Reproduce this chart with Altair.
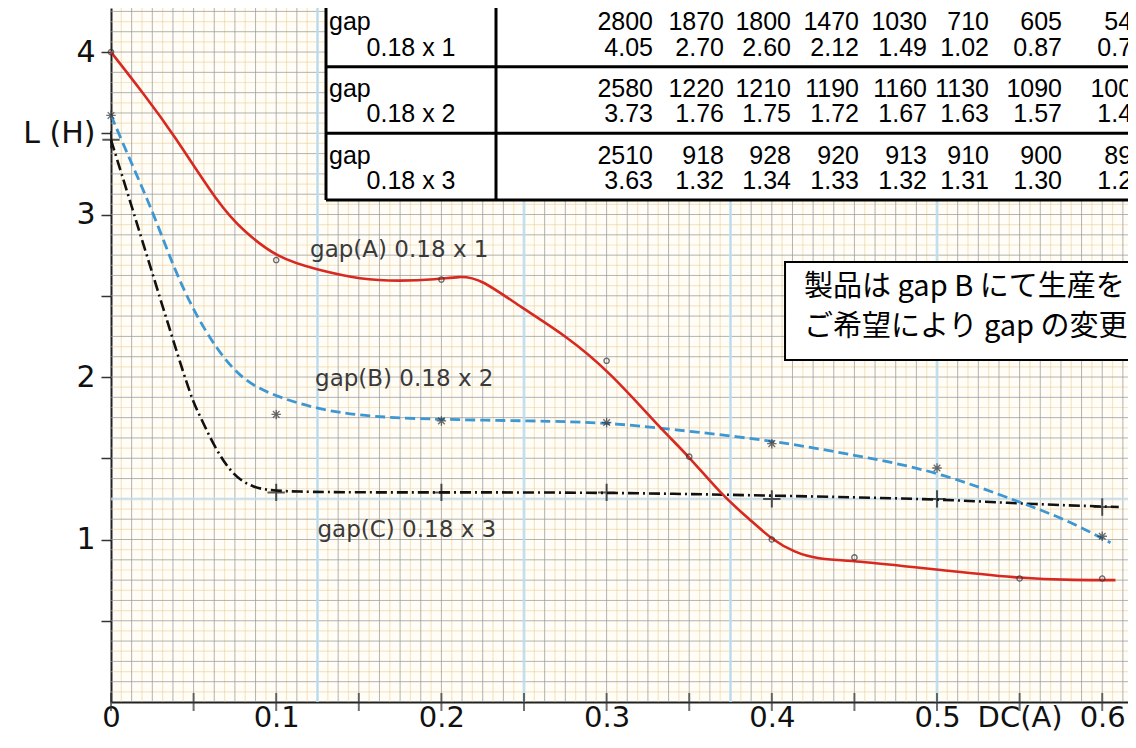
import altair as alt
import pandas as pd

# ---------------- values ----------------
# drawn curves (DC(A) -> L(H))
A_X = [0, 0.02, 0.0375, 0.066, 0.080, 0.101, 0.125, 0.151, 0.175, 0.197, 0.211, 0.223,
       0.248, 0.276, 0.302, 0.332, 0.35, 0.37, 0.387, 0.40, 0.414, 0.427, 0.45, 0.495,
       0.55, 0.584, 0.608]
A_Y = [4.0, 3.74, 3.50, 3.05, 2.90, 2.73, 2.66, 2.60, 2.59, 2.60, 2.62, 2.61,
       2.43, 2.25, 2.03, 1.69, 1.51, 1.27, 1.12, 1.00, 0.92, 0.88, 0.87, 0.82,
       0.76, 0.75, 0.75]

B_X = [0, 0.0135, 0.0256, 0.0377, 0.0498, 0.064, 0.078, 0.094, 0.125, 0.153, 0.188,
       0.257, 0.30, 0.338, 0.40, 0.45, 0.50, 0.55, 0.579, 0.605]
B_Y = [3.61, 3.29, 3.01, 2.68, 2.41, 2.17, 2.00, 1.90, 1.80, 1.76, 1.74,
       1.73, 1.72, 1.68, 1.61, 1.52, 1.42, 1.23, 1.12, 0.98]

C_X = [0, 0.0125, 0.025, 0.0375, 0.049, 0.053, 0.0625, 0.074, 0.086, 0.1, 0.2, 0.3,
       0.4, 0.5, 0.55, 0.61]
C_Y = [3.46, 3.05, 2.64, 2.23, 1.86, 1.78, 1.57, 1.39, 1.32, 1.29, 1.29, 1.29,
       1.27, 1.25, 1.22, 1.20]

# measured points (markers)
A_PX = [0, 0.1, 0.2, 0.3, 0.35, 0.4, 0.45, 0.55, 0.6]
A_PY = [4.0, 2.72, 2.60, 2.10, 1.51, 1.00, 0.89, 0.76, 0.76]
B_PX = [0, 0.1, 0.2, 0.3, 0.4, 0.5, 0.6]
B_PY = [3.61, 1.77, 1.73, 1.72, 1.59, 1.44, 1.02]
C_PX = [0, 0.1, 0.2, 0.3, 0.4, 0.5, 0.6]
C_PY = [3.46, 1.29, 1.29, 1.29, 1.25, 1.25, 1.20]

# curve labels
CURVE_LABELS = ["gap(A) 0.18 x 1", "gap(B) 0.18 x 2", "gap(C) 0.18 x 3"]
CURVE_LABEL_X = [0.1205, 0.1235, 0.125]
CURVE_LABEL_Y = [2.78, 1.99, 1.06]

# table
TABLE_NAMES = ["0.18 x 1", "0.18 x 2", "0.18 x 3"]
TABLE_GAP_1 = [2800, 1870, 1800, 1470, 1030, 710, 605, 540]
TABLE_L_1 = [4.05, 2.70, 2.60, 2.12, 1.49, 1.02, 0.87, 0.76]
TABLE_GAP_2 = [2580, 1220, 1210, 1190, 1160, 1130, 1090, 1000]
TABLE_L_2 = [3.73, 1.76, 1.75, 1.72, 1.67, 1.63, 1.57, 1.44]
TABLE_GAP_3 = [2510, 918, 928, 920, 913, 910, 900, 890]
TABLE_L_3 = [3.63, 1.32, 1.34, 1.33, 1.32, 1.31, 1.30, 1.28]

# note box
NOTE_LINES = ["製品は gap B にて生産を", "ご希望により gap の変更"]

# ticks
X_TICKS = [0, 0.05, 0.1, 0.15, 0.2, 0.25, 0.3, 0.35, 0.4, 0.45, 0.5, 0.55, 0.6]
Y_TICKS = [0.5, 1, 1.5, 2, 2.5, 3, 3.5, 4]

# ---------------- layout ----------------
PLOT_W, PLOT_H = 1017, 694
X_MAX = 0.6156
Y_MAX = 4.271

xs = alt.Scale(domain=[0, X_MAX], nice=False, zero=False)
ys = alt.Scale(domain=[0, Y_MAX], nice=False, zero=False)

X_AXIS = alt.Axis(
    values=X_TICKS,
    labelExpr="round(datum.value*100) == 55 ? 'DC(A)' : (round(datum.value*100) % 10 == 0 ? format(datum.value, '.1~f') : '')",
    ticks=False, grid=False, domainColor="#222", domainWidth=2,
    labelFont="DejaVu Sans", labelFontSize=29, labelColor="#111",
    labelPadding=1, labelOverlap=False, labelFlush=False, labelBound=False, title=None,
)
Y_AXIS = alt.Axis(
    values=Y_TICKS,
    labelExpr="datum.value == 3.5 ? 'L (H)' : (datum.value % 1 == 0 ? format(datum.value, 'd') : '')",
    ticks=True, tickSize=10, tickWidth=1.5, tickColor="#333",
    grid=False, domainColor="#222", domainWidth=2,
    labelFont="DejaVu Sans", labelFontSize=30, labelColor="#111",
    labelPadding=6, labelOverlap=False, labelFlush=False, labelBound=False, title=None,
)


def X(field):
    return alt.X(field, type="quantitative", scale=xs, axis=X_AXIS)


def Y(field):
    return alt.Y(field, type="quantitative", scale=ys, axis=Y_AXIS)


def vgrid(start, stop, step, color, width, opacity):
    return alt.Chart(alt.sequence(start, stop, step, as_="v")).mark_rule(
        color=color, strokeWidth=width, opacity=opacity
    ).encode(x=X("v"))


def hgrid(start, stop, step, color, width, opacity):
    return alt.Chart(alt.sequence(start, stop, step, as_="v")).mark_rule(
        color=color, strokeWidth=width, opacity=opacity
    ).encode(y=Y("v"))


grid = [
    vgrid(0.00625, X_MAX, 0.0125, "#e6c98f", 1.2, 0.45),
    hgrid(0.0625, Y_MAX, 0.125, "#e6c98f", 1.2, 0.45),
    vgrid(0.0125, X_MAX, 0.0125, "#999999", 1, 0.75),
    hgrid(0.125, Y_MAX, 0.125, "#999999", 1, 0.75),
    vgrid(0.125, X_MAX, 0.125, "#bfe1f3", 3, 0.8),
    alt.Chart(pd.DataFrame({"v": [1.25]})).mark_rule(
        color="#cde8f5", strokeWidth=3, opacity=0.6).encode(y=Y("v")),
]

ticks = alt.Chart(alt.sequence(0, 0.61, 0.05, as_="v")).mark_tick(
    orient="vertical", size=18, thickness=2, color="#333"
).encode(x=X("v"), y=alt.datum(0, scale=ys))

dfA = pd.DataFrame({"x": A_X, "y": A_Y})
dfB = pd.DataFrame({"x": B_X, "y": B_Y})
dfC = pd.DataFrame({"x": C_X, "y": C_Y})

lineA = alt.Chart(dfA).mark_line(interpolate="basis", color="#d8281f", strokeWidth=2.6).encode(x=X("x"), y=Y("y"))
lineB = alt.Chart(dfB).mark_line(interpolate="basis", color="#3d97d3", strokeWidth=2.8, strokeDash=[10, 5]).encode(x=X("x"), y=Y("y"))
lineC = alt.Chart(dfC).mark_line(interpolate="basis", color="#111111", strokeWidth=2.6, strokeDash=[11, 4, 2, 4]).encode(x=X("x"), y=Y("y"))

ASTERISK = "M-1,0L1,0M0,-1L0,1M-0.7,-0.7L0.7,0.7M-0.7,0.7L0.7,-0.7"
PLUS = "M-1,0L1,0M0,-1L0,1"

ptsA = alt.Chart(pd.DataFrame({"x": A_PX, "y": A_PY})).mark_point(
    shape="circle", size=28, filled=False, color="#333", strokeWidth=1.4).encode(x=X("x"), y=Y("y"))
ptsB = alt.Chart(pd.DataFrame({"x": B_PX, "y": B_PY})).mark_point(
    shape=ASTERISK, size=90, filled=False, color="#333", strokeWidth=1.3).encode(x=X("x"), y=Y("y"))
ptsC = alt.Chart(pd.DataFrame({"x": C_PX, "y": C_PY})).mark_point(
    shape=PLUS, size=300, filled=False, color="#111", strokeWidth=2).encode(x=X("x"), y=Y("y"))

labels = alt.Chart(pd.DataFrame({"x": CURVE_LABEL_X, "y": CURVE_LABEL_Y, "t": CURVE_LABELS})).mark_text(
    align="left", baseline="middle", font="DejaVu Sans", fontSize=23, color="#3a3a3a"
).encode(x=X("x"), y=Y("y"), text="t:N")

# note box (annotation, placed in data coordinates)
NOTE_BOX = {"x": [0.408], "x2": [0.66], "y": [2.708], "y2": [2.105]}
note_rect = alt.Chart(pd.DataFrame(NOTE_BOX)).mark_rect(
    fill="white", stroke="black", strokeWidth=2, clip=True
).encode(x=X("x"), x2="x2", y=Y("y"), y2="y2")
note_text = alt.Chart(pd.DataFrame({"x": [0.4195, 0.4195], "y": [2.552, 2.305], "t": NOTE_LINES})).mark_text(
    align="left", baseline="middle", font="Noto Sans CJK JP", fontSize=29, color="#000"
).encode(x=X("x"), y=Y("y"), text="t:N")

main = alt.layer(*grid, ticks, lineC, lineB, lineA, ptsA, ptsB, ptsC, labels, note_rect, note_text)

# ---------------- table (own scales: column index / row index) ----------------
TABLE_X = alt.Scale(domain=[-1, 0, 1, 2, 3, 4, 5, 6, 7, 8],
                    range=[215, 385, 542, 613, 680, 748, 816, 878, 951, 1035])
TABLE_Y = alt.Scale(domain=[0, 3], range=[-8, 192])

cells = []
for r, (gaps, ls, name) in enumerate(zip([TABLE_GAP_1, TABLE_GAP_2, TABLE_GAP_3],
                                        [TABLE_L_1, TABLE_L_2, TABLE_L_3], TABLE_NAMES)):
    cells.append({"col": -1, "row": r + 0.335, "t": "gap", "k": "left"})
    cells.append({"col": -0.5, "row": r + 0.715, "t": name, "k": "center"})
    for c, (g, l) in enumerate(zip(gaps, ls)):
        cells.append({"col": c + 1, "row": r + 0.335, "t": f"{g}", "k": "right"})
        cells.append({"col": c + 1, "row": r + 0.715, "t": f"{l:.2f}", "k": "right"})
cells = pd.DataFrame(cells)

TX = alt.X("col:Q", scale=TABLE_X, axis=None)
TY = alt.Y("row:Q", scale=TABLE_Y, axis=None)

tbl_bg = alt.Chart(pd.DataFrame({"col": [-1], "c2": [8.8], "row": [0], "r2": [3]})).mark_rect(
    fill="white").encode(x=TX, x2="c2", y=TY, y2="r2")
tbl_h = alt.Chart(pd.DataFrame({"row": [0, 1, 2, 3]})).mark_rule(color="black", strokeWidth=3).encode(
    y=TY, x=alt.datum(-1, scale=TABLE_X, axis=None), x2=alt.datum(8.8))
tbl_v = alt.Chart(pd.DataFrame({"col": [-1, 0]})).mark_rule(color="black", strokeWidth=3).encode(
    x=TX, y=alt.datum(0, scale=TABLE_Y, axis=None), y2=alt.datum(3))


def tbl_text(kind, align, dx):
    return alt.Chart(cells).transform_filter(alt.datum.k == kind).mark_text(
        align=align, baseline="middle", dx=dx, font="Liberation Sans", fontSize=25, color="#000"
    ).encode(x=TX, y=TY, text="t:N")


table = alt.layer(tbl_bg, tbl_h, tbl_v,
                  tbl_text("left", "left", 3), tbl_text("center", "center", 0), tbl_text("right", "right", 0))

chart = alt.layer(main, table).resolve_scale(x="independent", y="independent").properties(
    width=PLOT_W, height=PLOT_H,
    autosize=alt.AutoSizeParams(type="none"),
    padding={"left": 103, "top": 0, "right": 0, "bottom": 32},
    background="white",
).configure_view(fill="#fffdf6", stroke="transparent")

chart.save("out.html", embed_options={"renderer": "svg", "actions": False})
